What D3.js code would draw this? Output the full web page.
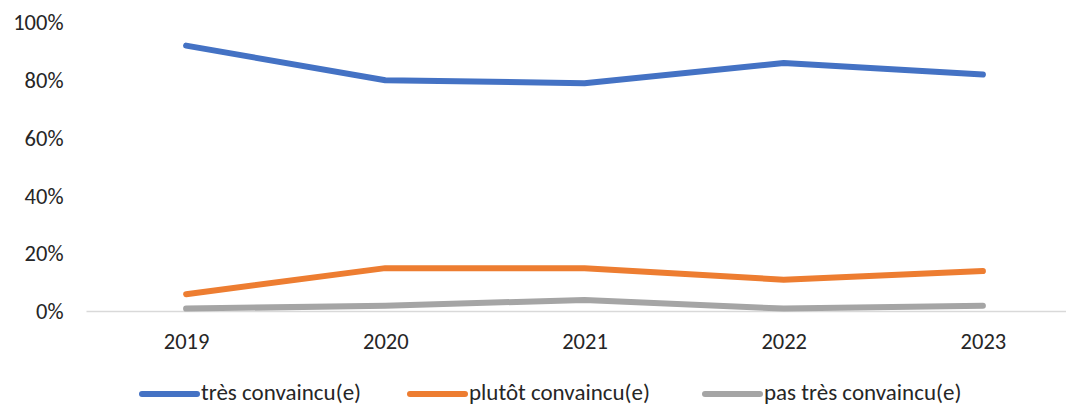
<!DOCTYPE html>
<html>
<head>
<meta charset="utf-8">
<script src="https://cdn.jsdelivr.net/npm/d3@7"></script>
<style>
  html, body { margin: 0; padding: 0; background: #fff; }
  svg { display: block; font-family: Carlito, Lato, "Open Sans", sans-serif; }
</style>
</head>
<body>
<svg id="chart" width="1066" height="406"></svg>
<script>
// Years on the category axis
const years = ["2019", "2020", "2021", "2022", "2023"];

// Share of respondents per answer (%)
const tresConvaincu = [92, 80, 79, 86, 82];
const plutotConvaincu = [6, 15, 15, 11, 14];
const pasTresConvaincu = [1, 2, 4, 1, 2];

// Y axis ticks (%)
const yTicks = [0, 20, 40, 60, 80, 100];

const seriesNames = ["très convaincu(e)", "plutôt convaincu(e)", "pas très convaincu(e)"];
const seriesColors = ["#4472C4", "#ED7D31", "#A5A5A5"];

const series = [tresConvaincu, plutotConvaincu, pasTresConvaincu].map((vals, i) => ({
  name: seriesNames[i],
  color: seriesColors[i],
  values: vals.map((v, j) => ({ year: years[j], value: v }))
}));

const svg = d3.select("#chart");
const margin = { left: 86.5, right: 1082.5, top: 22.5, bottom: 311.5 };
const fontSize = 22.5;
const textColor = "#262626";

const x = d3.scalePoint()
  .domain(years)
  .range([margin.left, margin.right])
  .padding(0.5);

const y = d3.scaleLinear()
  .domain([0, 100])
  .range([margin.bottom, margin.top]);

// Y tick labels (no gridlines, no axis line)
const yAxis = svg.append("g")
  .attr("transform", `translate(${margin.left - 23},0)`)
  .call(d3.axisLeft(y).tickValues(yTicks).tickFormat(d => d + "%").tickSize(0).tickPadding(0));
yAxis.select(".domain").remove();
yAxis.selectAll("text")
  .attr("font-size", fontSize)
  .attr("fill", textColor)
  .attr("font-family", "Carlito, Lato, sans-serif");

// Category axis baseline
svg.append("line")
  .attr("x1", margin.left).attr("x2", margin.right)
  .attr("y1", y(0)).attr("y2", y(0))
  .attr("stroke", "#D9D9D9")
  .attr("stroke-width", 1.5);

// Year labels
const xAxis = svg.append("g")
  .attr("transform", `translate(0,${y(0) + 22})`)
  .call(d3.axisBottom(x).tickSize(0).tickPadding(0));
xAxis.select(".domain").remove();
xAxis.selectAll("text")
  .attr("font-size", fontSize)
  .attr("fill", textColor)
  .attr("font-family", "Carlito, Lato, sans-serif");

// Lines
const line = d3.line()
  .x(d => x(d.year))
  .y(d => y(d.value));

svg.append("g")
  .selectAll("path")
  .data(series.slice().reverse())
  .join("path")
  .attr("d", d => line(d.values))
  .attr("fill", "none")
  .attr("stroke", d => d.color)
  .attr("stroke-width", 6)
  .attr("stroke-linecap", "round")
  .attr("stroke-linejoin", "round");

// Legend
const legendX = [142, 410, 705];
const legend = svg.append("g")
  .selectAll("g")
  .data(series)
  .join("g")
  .attr("transform", (d, i) => `translate(${legendX[i]},394)`);

legend.append("line")
  .attr("x1", 0).attr("x2", 55)
  .attr("y1", 0).attr("y2", 0)
  .attr("stroke", d => d.color)
  .attr("stroke-width", 6)
  .attr("stroke-linecap", "round");

legend.append("text")
  .attr("x", 59)
  .attr("y", 0)
  .attr("dy", "0.27em")
  .attr("font-size", 23)
  .attr("fill", textColor)
  .text(d => d.name);
</script>
</body>
</html>
